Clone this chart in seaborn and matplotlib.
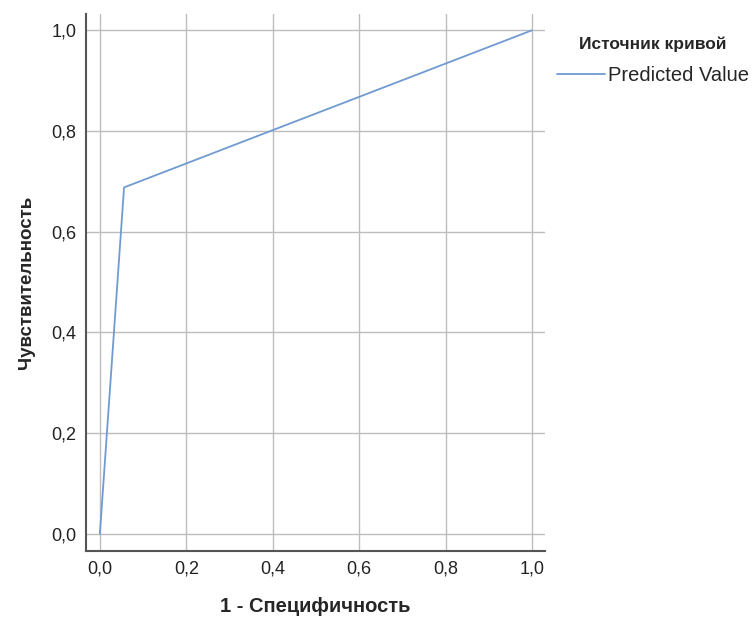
import numpy as np
import pandas as pd
import matplotlib.pyplot as plt
import seaborn as sns
from matplotlib.ticker import FuncFormatter

# ROC curve points
fpr = [0.0, 0.056, 1.0]
tpr = [0.0, 0.688, 1.0]
source = ['Predicted Value'] * 3

ticks = [0.0, 0.2, 0.4, 0.6, 0.8, 1.0]

df = pd.DataFrame({'fpr': fpr, 'tpr': tpr, 'Источник кривой': source})

sns.set_style('white')
plt.rcParams['font.family'] = ['Liberation Sans', 'DejaVu Sans']

fig = plt.figure(figsize=(7.56, 6.17), dpi=100)
ax = fig.add_axes([0.1138, 0.107, 0.607, 0.870])

sns.lineplot(df, x='fpr', y='tpr', hue='Источник кривой', palette=['#6f9bd1'],
             linewidth=1.3, ax=ax, sort=False)

ax.set_xlim(-0.032, 1.03)
ax.set_ylim(-0.034, 1.032)
ax.set_xticks(ticks)
ax.set_yticks(ticks)
fmt = FuncFormatter(lambda v, p: f'{v:.1f}'.replace('.', ','))
ax.xaxis.set_major_formatter(fmt)
ax.yaxis.set_major_formatter(fmt)
ax.tick_params(length=0, labelsize=13, colors='#222222', pad=7)
ax.grid(True, color='#bdbdbd', linewidth=1)
ax.set_axisbelow(True)

for s in ['top', 'right']:
    ax.spines[s].set_visible(False)
for s in ['left', 'bottom']:
    ax.spines[s].set_color('#555555')
    ax.spines[s].set_linewidth(1.5)

ax.set_xlabel('1 - Специфичность', fontsize=14.5, fontweight='bold', labelpad=14)
ax.set_ylabel('Чувствительность', fontsize=13.5, fontweight='bold', labelpad=12)

leg = ax.legend(title='Источник кривой', loc='upper left', bbox_to_anchor=(0.995, 0.985),
                frameon=False, fontsize=14.5, title_fontproperties={'weight': 'bold', 'size': 12.5},
                handlelength=2.4, handletextpad=0.15, alignment='center', borderpad=0.2)
leg._legend_box.sep = 10

fig.savefig('out.png', dpi=100)
